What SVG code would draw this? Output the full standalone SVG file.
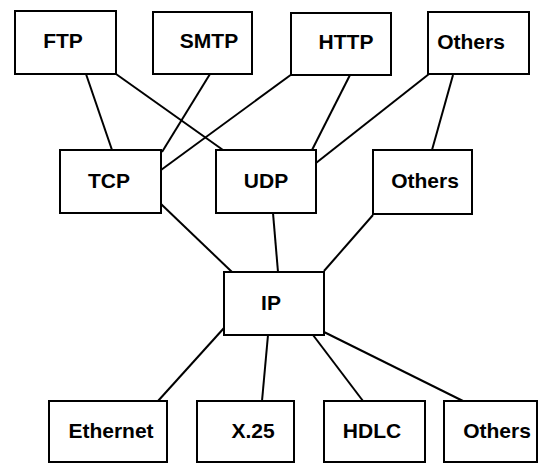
<svg xmlns="http://www.w3.org/2000/svg" width="539" height="464" viewBox="0 0 539 464">
<style>
rect{fill:#fff;stroke:#000;stroke-width:2}
line{stroke:#000;stroke-width:2}
text{font-family:"Liberation Sans",Arial,sans-serif;font-weight:bold;font-size:21px;text-anchor:middle;fill:#000}
</style>
<rect x="0" y="0" width="539" height="464" style="stroke:none"/>
<g id="connectors">
<line x1="86" y1="74" x2="112" y2="150"/>
<line x1="116" y1="74" x2="223" y2="150"/>
<line x1="210" y1="74" x2="162" y2="152"/>
<line x1="292" y1="74" x2="161" y2="170"/>
<line x1="350" y1="75" x2="312" y2="150"/>
<line x1="429" y1="74" x2="316" y2="163"/>
<line x1="453" y1="75" x2="432" y2="150"/>
<line x1="161" y1="204" x2="232" y2="272"/>
<line x1="273" y1="213" x2="278" y2="272"/>
<line x1="373" y1="215" x2="324" y2="271"/>
<line x1="224" y1="328" x2="158" y2="401"/>
<line x1="268" y1="335" x2="262" y2="401"/>
<line x1="313" y1="335" x2="363" y2="401"/>
<line x1="324" y1="332" x2="463" y2="401"/>
</g>
<g id="ftp"><rect x="15" y="11" width="101" height="63"/><text x="63" y="48">FTP</text></g>
<g id="smtp"><rect x="153" y="12" width="99" height="62"/><text x="209" y="48">SMTP</text></g>
<g id="http"><rect x="291" y="13" width="100" height="62"/><text x="346" y="49">HTTP</text></g>
<g id="others-app"><rect x="428" y="12" width="101" height="62"/><text x="471" y="49">Others</text></g>
<g id="tcp"><rect x="60" y="150" width="101" height="63"/><text x="109" y="188">TCP</text></g>
<g id="udp"><rect x="216" y="150" width="100" height="63"/><text x="266" y="188">UDP</text></g>
<g id="others-transport"><rect x="373" y="150" width="99" height="64"/><text x="425" y="188">Others</text></g>
<g id="ip"><rect x="224" y="272" width="100" height="63"/><text x="271" y="310">IP</text></g>
<g id="ethernet"><rect x="49" y="401" width="118" height="61"/><text x="111" y="438">Ethernet</text></g>
<g id="x25"><rect x="197" y="401" width="97" height="61"/><text x="253" y="438">X.25</text></g>
<g id="hdlc"><rect x="324" y="401" width="101" height="61"/><text x="372" y="438">HDLC</text></g>
<g id="others-link"><rect x="444" y="401" width="93" height="61"/><text x="497" y="438">Others</text></g>
</svg>
